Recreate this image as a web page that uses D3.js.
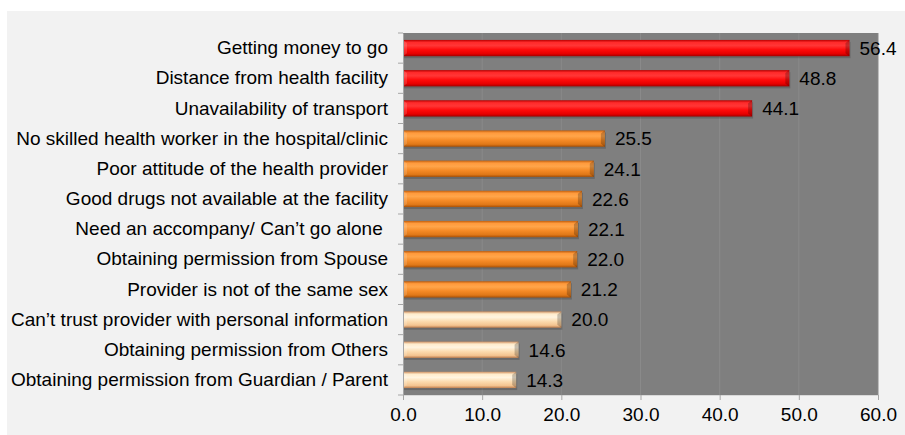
<!DOCTYPE html>
<html>
<head>
<meta charset="utf-8">
<script src="https://d3js.org/d3.v7.min.js"></script>
<style>
  body { margin: 0; background: #fff; }
  svg text { font-family: "Liberation Sans", Arial, sans-serif; }
</style>
</head>
<body>
<svg id="chart" width="905" height="435"></svg>
<script>
// barriers to accessing health care (%)
var categories = [
  "Getting money to go",
  "Distance from health facility",
  "Unavailability of transport",
  "No skilled health worker in the hospital/clinic",
  "Poor attitude of the health provider",
  "Good drugs not available at the facility",
  "Need an accompany/ Can\u2019t go alone ",
  "Obtaining permission from Spouse",
  "Provider is not of the same sex",
  "Can\u2019t trust provider with personal information",
  "Obtaining permission from Others",
  "Obtaining permission from Guardian / Parent"
];
var values = [56.4, 48.8, 44.1, 25.5, 24.1, 22.6, 22.1, 22.0, 21.2, 20.0, 14.6, 14.3];
var groups = ["red", "red", "red", "orange", "orange", "orange", "orange", "orange", "orange", "peach", "peach", "peach"];
var xTicks = [0, 10, 20, 30, 40, 50, 60];

var svg = d3.select("#chart");

var margin = {left: 403, right: 27, top: 33, bottom: 40};
var W = 905, H = 435;
var fs = 19;

// outer panel
svg.append("rect")
  .attr("x", 7).attr("y", 11)
  .attr("width", W - 7).attr("height", H - 11)
  .attr("fill", "#f2f2f2");

var x = d3.scaleLinear().domain([0, 60]).range([margin.left, W - margin.right]);
var y = d3.scaleBand().domain(categories).range([margin.top, H - margin.bottom]).paddingInner(0.46).paddingOuter(0.23);

// gradients
var defs = svg.append("defs");
var grads = {
  red:    ["#b80000", "#ff2a2a", "#ff3636", "#ff0a0a", "#e60000", "#a00000"],
  orange: ["#c25e0c", "#ff9a3c", "#ffa54a", "#f58a26", "#e07818", "#a85006"],
  peach:  ["#d09060", "#ffeccc", "#fff4e0", "#fcdcb0", "#f4c490", "#c08050"]
};
var stops = [0, 0.15, 0.35, 0.6, 0.85, 1];
Object.keys(grads).forEach(function(k) {
  var g = defs.append("linearGradient")
    .attr("id", "g-" + k)
    .attr("x1", 0).attr("y1", 0).attr("x2", 0).attr("y2", 1);
  grads[k].forEach(function(c, i) {
    g.append("stop").attr("offset", stops[i]).attr("stop-color", c);
  });
});

// plot background
svg.append("rect")
  .attr("x", x(0)).attr("y", margin.top)
  .attr("width", x(60) - x(0)).attr("height", H - margin.bottom - margin.top)
  .attr("fill", "#7f7f7f");

// gridlines
svg.append("g").selectAll("line")
  .data(xTicks.slice(1))
  .enter().append("line")
  .attr("x1", function(d) { return x(d); })
  .attr("x2", function(d) { return x(d); })
  .attr("y1", margin.top).attr("y2", H - margin.bottom)
  .attr("stroke", "#8a8a8a").attr("stroke-width", 1);

// bars
var bar = svg.append("g").selectAll("g")
  .data(values)
  .enter().append("g");

bar.append("rect")
  .attr("x", x(0) + 1)
  .attr("y", function(d, i) { return y(categories[i]) + 2; })
  .attr("width", function(d) { return x(d) - x(0); })
  .attr("height", y.bandwidth())
  .attr("fill", "#000").attr("opacity", 0.18);

bar.append("rect")
  .attr("x", x(0))
  .attr("y", function(d, i) { return y(categories[i]); })
  .attr("width", function(d) { return x(d) - x(0); })
  .attr("height", y.bandwidth())
  .attr("fill", function(d, i) { return "url(#g-" + groups[i] + ")"; });

// bevel at the ends
bar.append("path")
  .attr("d", function(d, i) {
    var x1 = x(d), y0 = y(categories[i]), h = y.bandwidth();
    return "M" + x1 + "," + y0 + "L" + (x1 - 4) + "," + (y0 + 3) + "L" + (x1 - 4) + "," + (y0 + h - 3) + "L" + x1 + "," + (y0 + h) + "Z";
  })
  .attr("fill", "#000").attr("opacity", 0.22);

bar.append("path")
  .attr("d", function(d, i) {
    var x0 = x(0), y0 = y(categories[i]), h = y.bandwidth();
    return "M" + x0 + "," + y0 + "L" + (x0 + 4) + "," + (y0 + 3) + "L" + (x0 + 4) + "," + (y0 + h - 3) + "L" + x0 + "," + (y0 + h) + "Z";
  })
  .attr("fill", "#fff").attr("opacity", 0.15);

// value labels
bar.append("text")
  .attr("x", function(d) { return x(d) + 10; })
  .attr("y", function(d, i) { return y(categories[i]) + y.bandwidth() / 2; })
  .attr("dy", "0.36em")
  .attr("font-size", fs)
  .attr("fill", "#000")
  .text(function(d) { return d.toFixed(1); });

// axes
var xAxis = svg.append("g")
  .attr("transform", "translate(0," + (H - margin.bottom) + ")")
  .call(d3.axisBottom(x).tickValues(xTicks).tickSize(5).tickPadding(8).tickFormat(d3.format(".1f")));
xAxis.select(".domain").attr("stroke", "#d9d9d9");
xAxis.selectAll(".tick line").attr("stroke", "#a6a6a6");
xAxis.selectAll("text").attr("font-size", fs).attr("fill", "#000")
  .style("font-family", "'Liberation Sans', Arial, sans-serif");

var yAxis = svg.append("g")
  .attr("transform", "translate(" + x(0) + ",0)")
  .call(d3.axisLeft(y).tickSize(0).tickPadding(15));
yAxis.select(".domain").attr("stroke", "#a6a6a6");
yAxis.selectAll("text").attr("font-size", fs).attr("fill", "#000")
  .style("white-space", "pre")
  .style("font-family", "'Liberation Sans', Arial, sans-serif");

// ticks between categories
var step = y.step();
svg.append("g").selectAll("line")
  .data(d3.range(categories.length + 1))
  .enter().append("line")
  .attr("x1", x(0) - 5).attr("x2", x(0))
  .attr("y1", function(i) { return margin.top + i * step; })
  .attr("y2", function(i) { return margin.top + i * step; })
  .attr("stroke", "#a6a6a6");
</script>
</body>
</html>
